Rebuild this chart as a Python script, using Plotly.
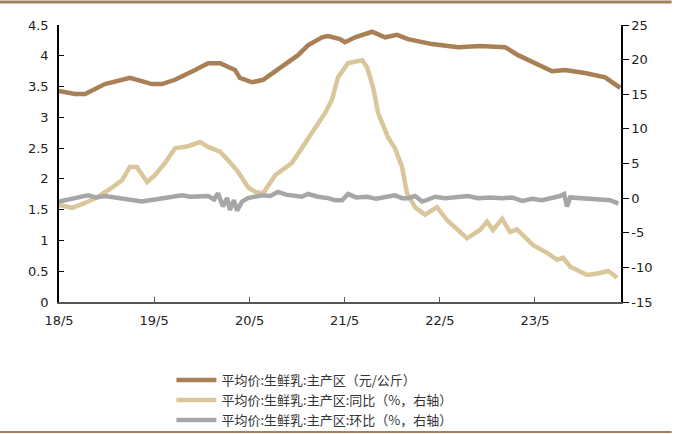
import plotly.graph_objects as go

# ---- data ----
price_dates = ["2018-05-01", "2018-07-01", "2018-08-09", "2018-10-24", "2019-01-28", "2019-02-28",
               "2019-04-23", "2019-05-31", "2019-07-20", "2019-10-05", "2019-11-24", "2020-01-09",
               "2020-03-06", "2020-03-25", "2020-05-11", "2020-06-22", "2020-08-07", "2020-09-26",
               "2020-11-03", "2020-12-11", "2021-02-03", "2021-02-26", "2021-04-13", "2021-05-02",
               "2021-06-10", "2021-08-14", "2021-10-03", "2021-11-18", "2021-12-30", "2022-04-01",
               "2022-07-10", "2022-10-02", "2023-01-06", "2023-02-25", "2023-05-01", "2023-07-06",
               "2023-08-24", "2023-11-09", "2024-01-25", "2024-03-23"]
price_vals = [3.43, 3.38, 3.38, 3.54, 3.64, 3.61,
              3.54, 3.54, 3.61, 3.77, 3.88, 3.88,
              3.77, 3.64, 3.57, 3.61, 3.74, 3.90,
              4.01, 4.17, 4.30, 4.32, 4.27, 4.22,
              4.30, 4.39, 4.30, 4.34, 4.27, 4.19,
              4.14, 4.16, 4.14, 4.01, 3.88, 3.75,
              3.77, 3.72, 3.65, 3.48]

yoy_dates = ["2018-05-01", "2018-06-20", "2018-08-09", "2018-09-28", "2018-11-20", "2018-12-29",
             "2019-01-28", "2019-02-24", "2019-04-04", "2019-05-04", "2019-06-12", "2019-07-20",
             "2019-09-08", "2019-10-24", "2019-11-24", "2020-01-09", "2020-02-08", "2020-03-18",
             "2020-04-25", "2020-05-22", "2020-06-22", "2020-08-07", "2020-10-11", "2020-11-30",
             "2021-01-07", "2021-02-15", "2021-03-13", "2021-04-06", "2021-05-14", "2021-07-07",
             "2021-07-26", "2021-08-18", "2021-09-06", "2021-10-14", "2021-11-10", "2021-12-07",
             "2021-12-26", "2022-01-26", "2022-03-05", "2022-04-20", "2022-05-29", "2022-08-13",
             "2022-10-02", "2022-10-29", "2022-11-21", "2022-12-26", "2023-01-25", "2023-02-21",
             "2023-04-24", "2023-06-16", "2023-07-25", "2023-08-17", "2023-09-13", "2023-11-17",
             "2024-01-06", "2024-02-06", "2024-03-11"]
yoy_vals = [-1.0, -1.4, -0.7, 0.2, 1.5, 2.6,
            4.5, 4.5, 2.3, 3.3, 5.1, 7.2,
            7.5, 8.1, 7.4, 6.7, 5.5, 3.8,
            1.6, 0.9, 0.7, 3.3, 5.1, 8.0,
            10.3, 12.3, 14.2, 17.5, 19.5, 19.9,
            18.9, 16.0, 12.3, 8.8, 7.2, 4.5,
            0.7, -1.3, -2.4, -1.3, -3.2, -5.8,
            -4.6, -3.4, -4.6, -3.0, -4.9, -4.5,
            -6.8, -7.9, -8.9, -8.6, -9.9, -11.1,
            -10.8, -10.5, -11.5]

mom_dates = ["2018-05-01", "2018-06-01", "2018-07-01", "2018-08-20", "2018-09-20", "2018-10-24",
             "2018-11-28", "2018-12-29", "2019-02-05", "2019-03-15", "2019-05-04", "2019-06-23",
             "2019-08-16", "2019-09-16", "2019-10-16", "2019-11-24", "2019-12-17", "2020-01-01",
             "2020-01-20", "2020-02-05", "2020-02-16", "2020-03-02", "2020-03-14", "2020-04-02",
             "2020-04-25", "2020-05-22", "2020-06-18", "2020-07-19", "2020-08-18", "2020-09-18",
             "2020-10-23", "2020-11-18", "2020-12-11", "2021-01-19", "2021-02-26", "2021-03-25",
             "2021-04-21", "2021-05-14", "2021-06-14", "2021-07-26", "2021-08-30", "2021-10-03",
             "2021-11-10", "2021-12-07", "2021-12-30", "2022-01-26", "2022-02-22", "2022-03-17",
             "2022-04-13", "2022-05-21", "2022-06-28", "2022-08-17", "2022-09-25", "2022-11-10",
             "2022-12-26", "2023-02-02", "2023-03-13", "2023-04-20", "2023-05-28", "2023-07-06",
             "2023-08-05", "2023-08-21", "2023-09-01", "2023-09-13", "2023-10-13", "2023-11-28",
             "2024-01-14", "2024-02-14", "2024-03-16"]
mom_vals = [-0.5, -0.2, 0.0, 0.4, 0.1, 0.3,
            0.1, 0.0, -0.2, -0.5, -0.2, 0.1,
            0.4, 0.2, 0.2, 0.3, -0.2, 0.7,
            -1.2, 0.0, -1.7, -0.3, -1.8, -0.5,
            0.0, 0.2, 0.4, 0.3, 0.9, 0.5,
            0.4, 0.2, 0.6, 0.2, 0.0, -0.3,
            -0.3, 0.6, 0.1, 0.2, -0.1, 0.1,
            0.4, 0.0, 0.0, 0.3, -0.5, -0.2,
            0.2, 0.0, 0.1, 0.3, 0.0, 0.1,
            0.0, 0.1, -0.4, -0.1, -0.3, 0.0,
            0.3, 0.6, -1.2, 0.1, 0.0, -0.1,
            -0.2, -0.3, -0.8]

x_tick_dates = ["2018-05-01", "2019-05-01", "2020-05-01", "2021-05-01", "2022-05-01", "2023-05-01"]
x_tick_text = ["18/5", "19/5", "20/5", "21/5", "22/5", "23/5"]
left_ticks = [0, 0.5, 1, 1.5, 2, 2.5, 3, 3.5, 4, 4.5]
left_tick_text = ["0", "0.5", "1", "1.5", "2", "2.5", "3", "3.5", "4", "4.5"]
right_ticks = [-15, -10, -5, 0, 5, 10, 15, 20, 25]
right_tick_text = ["-15", "-10", "-5", "0", "5", "10", "15", "20", "25"]

names = ["平均价:生鲜乳:主产区（元/公斤）",
         "平均价:生鲜乳:主产区:同比（%，右轴）",
         "平均价:生鲜乳:主产区:环比（%，右轴）"]

C_PRICE = "#A97F55"
C_YOY = "#D9C69A"
C_MOM = "#A6A6A6"
C_FRAME = "#A57E5A"

fig = go.Figure()
fig.add_trace(go.Scatter(x=price_dates, y=price_vals, name=names[0], mode="lines",
                         line=dict(color=C_PRICE, width=4.5), yaxis="y"))
fig.add_trace(go.Scatter(x=yoy_dates, y=yoy_vals, name=names[1], mode="lines",
                         line=dict(color=C_YOY, width=4.5), yaxis="y2"))
fig.add_trace(go.Scatter(x=mom_dates, y=mom_vals, name=names[2], mode="lines",
                         line=dict(color=C_MOM, width=4.5), yaxis="y2"))

tick_font = dict(family="DejaVu Sans, Verdana, sans-serif", size=13, color="#222222")

fig.update_layout(
    width=675, height=434,
    margin=dict(l=59, r=54, t=25, b=132, autoexpand=False),
    paper_bgcolor="white", plot_bgcolor="white",
    showlegend=True,
    legend=dict(x=0.2, y=-0.228, xanchor="left", yanchor="top",
                font=dict(family="Noto Sans CJK SC", size=13, color="#333333"),
                bgcolor="rgba(0,0,0,0)", tracegroupgap=0, itemwidth=40),
    xaxis=dict(type="date", range=["2018-05-01", "2024-03-26"],
               tickvals=x_tick_dates, ticktext=x_tick_text,
               ticks="inside", ticklen=5, tickcolor="#555555",
               showline=True, linecolor="#555555", linewidth=1.5,
               showgrid=False, zeroline=False, tickfont=tick_font,
               ticklabelstandoff=6, automargin=False),
    yaxis=dict(range=[0, 4.5], tickvals=left_ticks, ticktext=left_tick_text,
               ticks="inside", ticklen=5, tickcolor="#000000",
               showline=True, linecolor="#000000", linewidth=1.5,
               showgrid=False, zeroline=False, tickfont=tick_font,
               ticklabelstandoff=6, automargin=False),
    yaxis2=dict(range=[-15, 25], tickvals=right_ticks, ticktext=right_tick_text,
                overlaying="y", side="right",
                ticks="outside", ticklen=6, tickcolor="#000000",
                showline=True, linecolor="#000000", linewidth=1.5,
                showgrid=False, zeroline=False, tickfont=tick_font,
                automargin=False),
    shapes=[
        dict(type="line", xref="paper", yref="paper", x0=-0.105, x1=1.09, y0=1.083, y1=1.083,
             line=dict(color=C_FRAME, width=3)),
        dict(type="line", xref="paper", yref="paper", x0=-0.105, x1=1.09, y0=-0.469, y1=-0.469,
             line=dict(color=C_FRAME, width=2)),
    ],
)

fig.write_html("out.html", config={"displayModeBar": False},
               post_script="document.body.style.margin='0';document.body.style.padding='0';")
